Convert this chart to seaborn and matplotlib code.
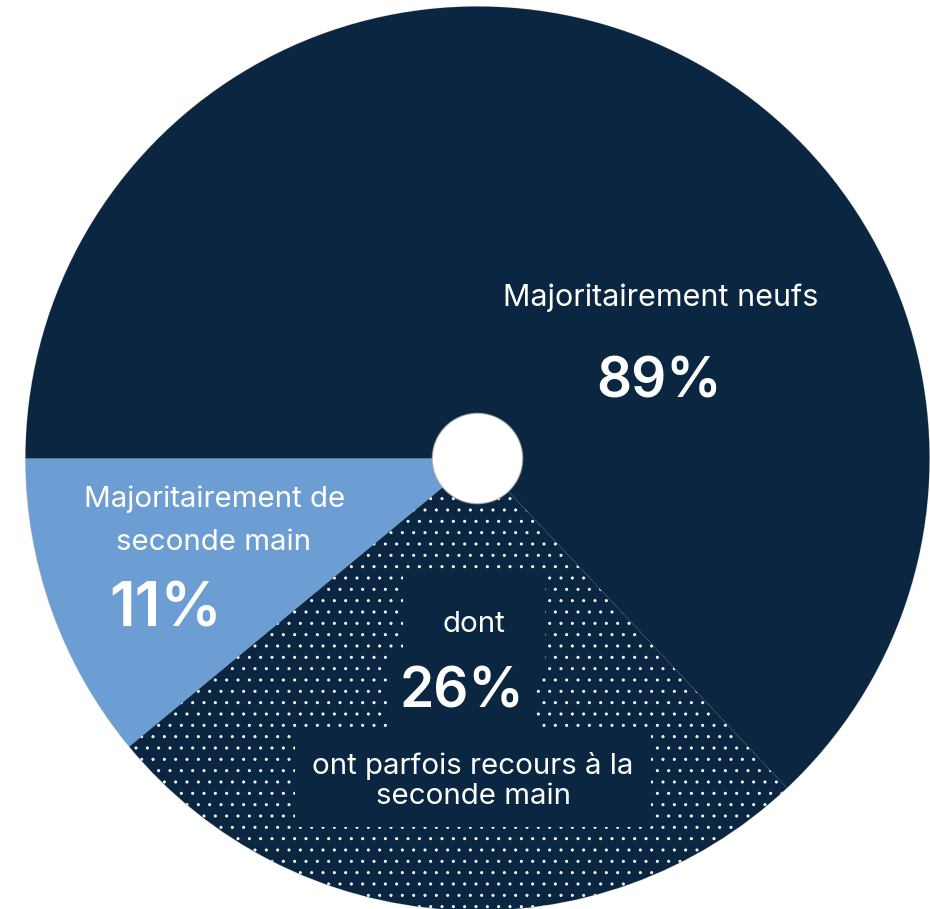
import numpy as np
import matplotlib
matplotlib.use("Agg")
import matplotlib.pyplot as plt
import seaborn as sns

# valeurs
categories = ["Majoritairement neufs", "Majoritairement de seconde main"]
shares = [89, 11]
sub_share = 26  # dont ont parfois recours à la seconde main
sub_label_top = "dont"
sub_label_bottom = ["ont parfois recours à la", "seconde main"]
label_lines_second = ["Majoritairement de", "seconde main"]

navy = "#0A2640"
light_blue = "#6C9DD3"

sns.set_theme(style="white")
plt.rcParams["font.family"] = ["Inter", "DejaVu Sans"]
plt.rcParams["hatch.color"] = "white"
plt.rcParams["hatch.linewidth"] = 0.8

DPI = 68
W, H = 930, 909
fig = plt.figure(figsize=(W / DPI, H / DPI), dpi=DPI)
ax = fig.add_axes([0, 0, 1, 1])

# pie geometry in pixels (centre, rayon)
cx, cy, R = 477.5, 458.5, 452.0


def px(x, y):
    return (x - cx) / R, (cy - y) / R


def fs(p):  # pixels -> points
    return p * 72 / DPI


sizes = [shares[1], sub_share, shares[0] - sub_share]
wedges, _ = ax.pie(sizes, colors=[light_blue, navy, navy], startangle=180,
                   counterclock=True, radius=1.0,
                   wedgeprops=dict(width=0.9, linewidth=0, edgecolor="none"))
wedges[1].set_hatch(".")
wedges[1].set_edgecolor("white")
wedges[1].set_linewidth(0)

# fine ombre autour du disque et du trou
ax.add_patch(plt.Circle((0, 0), 1.0, fill=False, edgecolor="#9a9a9a",
                        lw=1.2, alpha=0.35, zorder=0))
ax.add_patch(plt.Circle((0, 0), 0.1, fill=False, edgecolor="#b0b0b0",
                        lw=1.5, alpha=0.6, zorder=3))

ax.set_xlim((0 - cx) / R, (W - cx) / R)
ax.set_ylim((cy - H) / R, cy / R)
ax.set_aspect("auto")
ax.axis("off")

white = "white"
small = fs(29.5)
big = fs(55)

# Majoritairement neufs
ax.text(*px(661, 306), categories[0], color=white, fontsize=fs(30.5),
        ha="center", va="baseline")
ax.text(*px(659, 398), f"{shares[0]}%", color=white, fontsize=big,
        ha="center", va="baseline", fontweight="semibold")

# Majoritairement de seconde main
ax.text(*px(215, 507), label_lines_second[0], color=white, fontsize=small,
        ha="center", va="baseline")
ax.text(*px(214, 550), label_lines_second[1], color=white, fontsize=small,
        ha="center", va="baseline")
ax.text(*px(166, 627), f"{shares[1]}%", color=white, fontsize=fs(61),
        ha="center", va="baseline", fontweight="semibold")

# dont 26 %
ax.text(*px(474, 632), sub_label_top, color=white, fontsize=small,
        ha="center", va="baseline", zorder=5,
        bbox=dict(boxstyle="square,pad=1.35", fc=navy, ec="none"))
ax.text(*px(462, 708), f"{sub_share}%", color=white, fontsize=big,
        ha="center", va="baseline", fontweight="semibold", zorder=6,
        bbox=dict(boxstyle="square,pad=0.22", fc=navy, ec="none"))
ax.text(*px(473, 781), "\n".join(sub_label_bottom), color=white,
        fontsize=small, ha="center", va="center", linespacing=1.12,
        zorder=5, bbox=dict(boxstyle="square,pad=0.6", fc=navy, ec="none"))

fig.savefig("out.png", dpi=DPI, facecolor="white")
